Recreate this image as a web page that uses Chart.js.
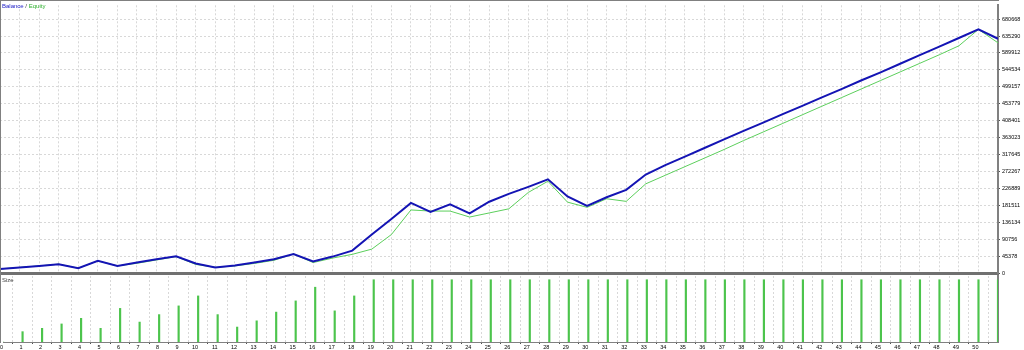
<!DOCTYPE html>
<html>
<head>
<meta charset="utf-8">
<script src="https://cdn.jsdelivr.net/npm/chart.js@4.4.1/dist/chart.umd.min.js"></script>
<style>
  html, body { margin: 0; padding: 0; background: #fff; }
  #wrap { position: relative; width: 1024px; height: 350px; overflow: hidden; font-family: "Liberation Sans", Arial, sans-serif; }
  canvas { position: absolute; left: 0; }
  #frame { position: absolute; left: 0; top: 0; width: 998px; height: 342px; border-left: 1px solid #808080; border-top: 1px solid #808080; pointer-events: none; }
  .lbl { position: absolute; font-size: 6px; line-height: 6px; white-space: nowrap; }
</style>
</head>
<body>
<div id="wrap">
  <canvas id="topChart" width="1024" height="350" style="top:0"></canvas>
  <canvas id="sizeChart" width="1024" height="75" style="top:275px"></canvas>
  <div id="frame"></div>
  <div class="lbl" style="left:2px; top:3px;"><span style="color:#2020c8">Balance</span> <span style="color:#404040">/</span> <span style="color:#30b030">Equity</span></div>
  <div class="lbl" style="left:2px; top:277px; color:#404040;">Size</div>
</div>
<script>
// balance / equity per trade (index 0..51)
const balance = [11000, 15000, 19000, 23700, 13000, 32500, 19000, 28000, 37000, 45000,
                 25600, 15000, 20000, 28000, 37000, 51000, 31000, 44000, 60000, 103000,
                 145000, 188000, 164000, 184000, 160000, 191000, 212000, 231000, 251000, 205000,
                 180000, 203000, 223000, 264000, 289000, 312000, 335000, 358000, 381000, 403000,
                 426000, 448000, 471000, 493000, 516000, 538000, 561000, 584000, 607000, 630000,
                 653000, 628000];
const equity = [11000, 15000, 19000, 23700, 13000, 32500, 19000, 26000, 35000, 44000,
                23000, 15000, 19000, 25600, 34000, 51000, 28000, 40000, 50000, 64000,
                103000, 169000, 166000, 166000, 150000, 161000, 172000, 216000, 246000, 190000,
                176000, 199000, 192000, 239000, 262000, 285000, 308000, 331000, 355000, 378000,
                401000, 424000, 447000, 470000, 493000, 516000, 539000, 562000, 585000, 609000,
                653000, 617000];
// lot size per trade
const sizes = [0, 8.3, 11, 14.5, 19, 11, 27, 16, 22, 29,
               37, 22, 12, 17, 24, 33, 44, 25, 37, 50,
               50, 50, 50, 50, 50, 50, 50, 50, 50, 50,
               50, 50, 50, 50, 50, 50, 50, 50, 50, 50,
               50, 50, 50, 50, 50, 50, 50, 50, 50, 50,
               50, 50];
const yTickValues = [0, 45378, 90756, 136134, 181511, 226889, 272267, 317645, 363023,
                     408401, 453779, 499157, 544534, 589912, 635290, 680668];
const yTickLabels = ['0', '45378', '90756', '136134', '181511', '226889', '272267', '317645', '363023',
                     '408401', '453779', '499157', '544534', '589912', '635290', '680668'];

const tickFont = { family: "Liberation Sans", size: 5.5 };
const gridColor = '#d8d8d8';

new Chart(document.getElementById('topChart'), {
    type: 'line',
    data: {
        datasets: [{
            label: 'Balance',
            data: balance.map((v, i) => ({ x: i, y: v })),
            borderColor: '#1414b4',
            borderWidth: 2,
            pointRadius: 0,
            tension: 0
        }, {
            label: 'Equity',
            data: equity.map((v, i) => ({ x: i, y: v })),
            borderColor: '#5ccf5c',
            borderWidth: 1,
            pointRadius: 0,
            tension: 0
        }]
    },
    options: {
        responsive: false,
        animation: false,
        layout: { padding: { top: 1, bottom: 77, left: 0, right: 0 } },
        plugins: { legend: { display: false }, tooltip: { enabled: false } },
        scales: {
            x: {
                type: 'linear', min: 0, max: 51,
                ticks: { display: false, stepSize: 1 },
                grid: { color: gridColor, drawTicks: false },
                border: { display: true, color: '#707070', width: 3, dash: [2, 2] }
            },
            y: {
                position: 'right', min: 0, max: 717600,
                afterBuildTicks: (scale) => { scale.ticks = yTickValues.map(v => ({ value: v })); },
                afterFit: (scale) => { scale.width = 26; },
                ticks: {
                    font: tickFont, color: '#000', padding: 2,
                    callback: (v, i) => yTickLabels[i]
                },
                grid: { color: gridColor, tickColor: '#505050', tickLength: 2 },
                border: { display: true, color: '#808080', width: 2, dash: [2, 2] }
            }
        }
    }
});

new Chart(document.getElementById('sizeChart'), {
    type: 'bar',
    data: {
        datasets: [{
            label: 'Size',
            data: sizes.map((v, i) => ({ x: i, y: v })),
            backgroundColor: '#4cc44c',
            barThickness: 1.5
        }]
    },
    options: {
        responsive: false,
        animation: false,
        layout: { padding: { top: 1, bottom: 0, left: 0, right: 0 } },
        plugins: { legend: { display: false }, tooltip: { enabled: false } },
        scales: {
            x: {
                type: 'linear', min: 0, max: 51, offset: false,
                afterFit: (scale) => { scale.height = 8; },
                ticks: {
                    stepSize: 1, autoSkip: false, maxRotation: 0, align: 'end',
                    font: tickFont, color: '#000', padding: 0,
                    callback: (v) => (v <= 50 ? String(v) : '')
                },
                grid: { color: gridColor, tickColor: '#505050', tickLength: 2 },
                border: { display: true, color: '#808080', width: 1, dash: [2, 2] }
            },
            y: {
                position: 'right', min: 0, max: 53,
                afterFit: (scale) => { scale.width = 26; },
                ticks: { display: false },
                grid: { display: false },
                border: { display: true, color: '#808080', width: 2 }
            }
        }
    }
});
</script>
</body>
</html>
